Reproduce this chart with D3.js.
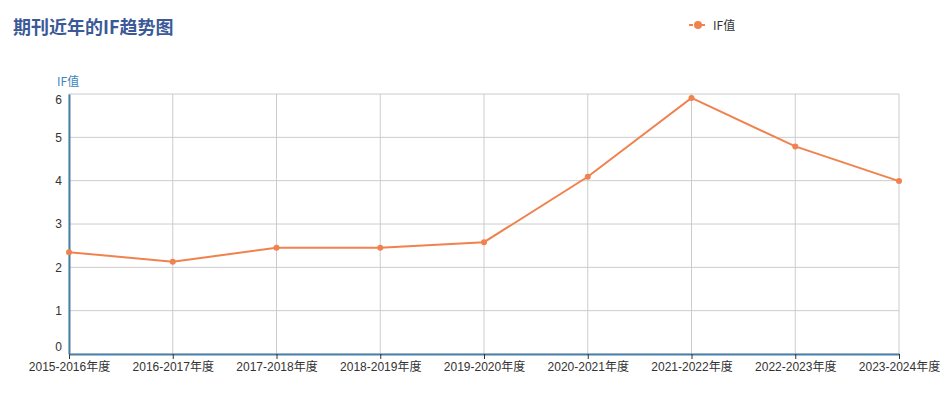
<!DOCTYPE html>
<html><head><meta charset="utf-8">
<script src="https://cdn.jsdelivr.net/npm/d3@7/dist/d3.min.js"></script>
<style>
html,body{margin:0;padding:0;background:#fff;}
svg{display:block;font-family:"Microsoft YaHei","Noto Sans CJK SC",Arial,sans-serif;}
</style></head>
<body>
<svg id="chart" width="950" height="413"></svg>
<script>
const categories = ["2015-2016年度","2016-2017年度","2017-2018年度","2018-2019年度","2019-2020年度","2020-2021年度","2021-2022年度","2022-2023年度","2023-2024年度"];
const ifValues = [2.35, 2.13, 2.45, 2.45, 2.58, 4.09, 5.91, 4.79, 3.99];
const yTicks = [0, 1, 2, 3, 4, 5, 6];
const titleText = "期刊近年的IF趋势图";
const seriesName = "IF值";
const yAxisName = "IF值";

(function () {
const svg = d3.select("#chart");
const pLeft = 69, pRight = 899, pTop = 94, pBottom = 354;
const lineColor = "#f0824f";
const axisColor = "#4a80aa";

const x = d3.scalePoint().domain(categories).range([pLeft, pRight]);
const y = d3.scaleLinear().domain([0, 6]).range([pBottom, pTop]);

// grid
svg.append("g").selectAll("line").data(yTicks).join("line")
  .attr("x1", pLeft).attr("x2", pRight)
  .attr("y1", d => y(d)).attr("y2", d => y(d))
  .attr("stroke", "#ccc").attr("stroke-width", 1);
svg.append("g").selectAll("line").data(categories).join("line")
  .attr("x1", d => x(d)).attr("x2", d => x(d))
  .attr("y1", pTop).attr("y2", pBottom)
  .attr("stroke", "#ccc").attr("stroke-width", 1);

// x axis
const xAxis = d3.axisBottom(x).tickSize(5).tickSizeOuter(0).tickPadding(3);
const gx = svg.append("g").attr("transform", `translate(0,${pBottom})`).call(xAxis);
gx.select(".domain").attr("stroke", axisColor).attr("stroke-width", 2);
gx.selectAll(".tick line").attr("stroke", "#333");
gx.selectAll(".tick text").attr("fill", "#333").attr("font-size", 12)
  .attr("font-family", "Arial,'Noto Sans CJK SC',sans-serif");

// y axis
const yAxis = d3.axisLeft(y).tickValues(yTicks).tickSize(0).tickPadding(7).tickFormat(d3.format("d"));
const gy = svg.append("g").attr("transform", `translate(${pLeft},0)`).call(yAxis);
gy.select(".domain").attr("stroke", axisColor).attr("stroke-width", 2);
gy.selectAll(".tick text").attr("fill", "#333").attr("font-size", 12)
  .attr("font-family", "Arial,'Noto Sans CJK SC',sans-serif")
  .attr("dy", d => d === 0 ? "-0.26em" : d === 6 ? "0.82em" : "0.32em");

// y axis name
svg.append("text").attr("x", 57).attr("y", 86).text(yAxisName)
  .attr("fill", "#3a86c0").attr("font-size", 12);

// line
const line = d3.line().x((d, i) => x(categories[i])).y(d => y(d));
svg.append("path").datum(ifValues).attr("d", line)
  .attr("fill", "none").attr("stroke", lineColor).attr("stroke-width", 2);
svg.append("g").selectAll("circle").data(ifValues).join("circle")
  .attr("cx", (d, i) => x(categories[i])).attr("cy", d => y(d)).attr("r", 3)
  .attr("fill", lineColor);

// title
svg.append("text").attr("x", 13).attr("y", 33.5).text(titleText)
  .attr("fill", "#3b5998").attr("font-size", 18).attr("font-weight", "bold");

// legend
const lg = svg.append("g");
lg.append("line").attr("x1", 689).attr("x2", 707).attr("y1", 25).attr("y2", 25)
  .attr("stroke", lineColor).attr("stroke-width", 2).attr("stroke-dasharray", "4,2");
lg.append("circle").attr("cx", 698).attr("cy", 25).attr("r", 4).attr("fill", lineColor);
lg.append("text").attr("x", 713).attr("y", 29.5).text(seriesName)
  .attr("fill", "#333").attr("font-size", 12);
})();
</script>
</body></html>
